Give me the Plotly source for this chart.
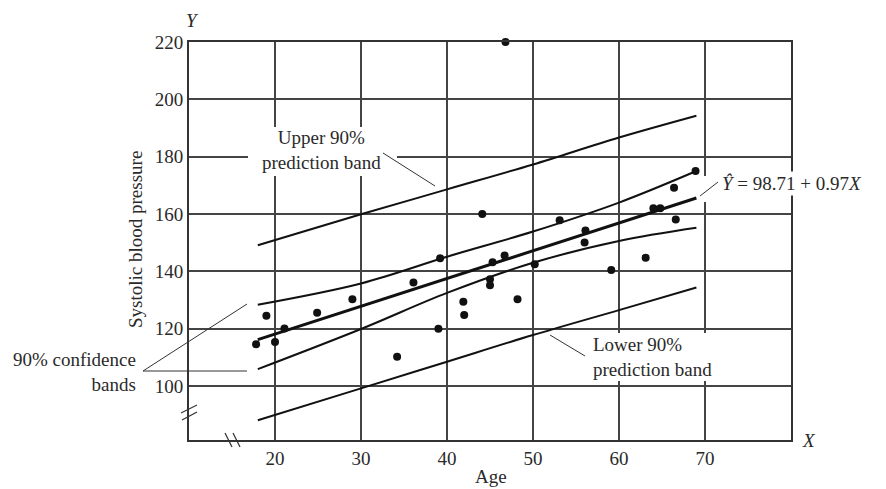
import plotly.graph_objects as go

# ---- data ----
age = [17.8, 19.0, 20.0, 21.1, 24.9, 29.0, 34.2, 36.1, 39.0, 39.2,
       41.9, 42.0, 44.1, 45.0, 45.0, 45.3, 46.7, 46.8, 48.2, 50.2,
       53.1, 56.0, 56.1, 59.1, 63.1, 64.0, 64.8, 66.4, 66.6, 68.9]
sbp = [114.6, 124.5, 115.4, 120.1, 125.6, 130.3, 110.2, 136.1, 120.0, 144.6,
       129.4, 124.8, 160.0, 137.3, 135.2, 143.2, 145.5, 220.0, 130.3, 142.5,
       157.8, 150.1, 154.3, 140.5, 144.8, 162.0, 162.0, 169.2, 158.1, 175.0]

reg_x = [18, 69]
reg_y = [116.2, 165.6]

band_x = [18, 30, 40, 50, 60, 69]
upper_conf = [128.4, 135.8, 145.1, 153.9, 164.0, 175.0]
lower_conf = [105.9, 119.9, 132.5, 143.0, 150.6, 155.2]
upper_pred = [149.1, 159.9, 168.6, 177.3, 186.7, 194.3]
lower_pred = [88.1, 99.2, 108.5, 117.8, 126.5, 134.4]

x_ticks = [20, 30, 40, 50, 60, 70]
y_ticks = [100, 120, 140, 160, 180, 200, 220]

# ---- layout geometry (page pixels; page body has an 8px margin) ----
OFF = 8
W, H = 886 - OFF, 489 - OFF
L, R, T, B = 189, 791, 42, 440          # plot box in page pixels
PW, PH = R - L, B - T


def px(x):
    return (x - L) / PW


def py(y):
    return (B - y) / PH


FONT = "Liberation Serif, Times New Roman, serif"
TXT = "#2a2a2a"
INK = "#111111"

fig = go.Figure()

for yv in (upper_pred, lower_pred):
    fig.add_trace(go.Scatter(x=band_x, y=yv, mode="lines",
                             line=dict(color=INK, width=2, shape="spline"),
                             showlegend=False, hoverinfo="skip"))
for yv in (upper_conf, lower_conf):
    fig.add_trace(go.Scatter(x=band_x, y=yv, mode="lines",
                             line=dict(color=INK, width=2, shape="spline"),
                             showlegend=False, hoverinfo="skip"))
fig.add_trace(go.Scatter(x=reg_x, y=reg_y, mode="lines",
                         line=dict(color=INK, width=3),
                         showlegend=False, hoverinfo="skip"))
fig.add_trace(go.Scatter(x=age, y=sbp, mode="markers",
                         marker=dict(color=INK, size=8),
                         cliponaxis=False, showlegend=False))

shapes = []
# white boxes behind the band labels (interrupt the gridlines)
for (x0, y0, x1, y1) in [(248, 127, 397, 176), (585, 333, 722, 381),
                         (700, 176, 712, 202)]:
    shapes.append(dict(type="rect", xref="paper", yref="paper",
                       x0=px(x0), x1=px(x1), y0=py(y1), y1=py(y0),
                       fillcolor="white", line=dict(width=0), layer="above"))
# leader lines
for (x0, y0, x1, y1) in [(383, 153, 435, 186), (700, 196, 718, 182),
                         (143, 371, 247, 304), (143, 371, 247, 371),
                         (550, 335, 585, 356)]:
    shapes.append(dict(type="line", xref="paper", yref="paper",
                       x0=px(x0), y0=py(y0), x1=px(x1), y1=py(y1),
                       line=dict(color="#333", width=1), layer="above"))
# axis break marks
for (x0, y0, x1, y1) in [(181, 413, 197, 405), (182, 420, 197, 412),
                         (225, 433, 232, 447), (233, 433, 240, 447)]:
    shapes.append(dict(type="line", xref="paper", yref="paper",
                       x0=px(x0), y0=py(y0), x1=px(x1), y1=py(y1),
                       line=dict(color="#333", width=1.2), layer="above"))

ann = []


def add(text, x, y, xa="center", ya="middle", size=19, align="center", **kw):
    ann.append(dict(text=text, xref="paper", yref="paper", x=px(x), y=py(y),
                    xanchor=xa, yanchor=ya, showarrow=False, align=align,
                    font=dict(family=FONT, size=size, color=TXT), **kw))


add("<i>Y</i>", 192, 20)
add("<i>X</i>", 800, 440, xa="left")
add("Age", 491, 476)
add("Systolic blood pressure", 135, 240, textangle=-90)
add("Upper 90%<br>prediction band", 321, 150)
add("Lower 90%<br>prediction band", 591, 357, xa="left", align="left")
add("90% confidence<br>bands", 138, 372, xa="right", align="right")
add("<i>Ŷ</i> = 98.71 + 0.97<i>X</i>", 720, 183, xa="left",
    bgcolor="white", borderpad=1)

axis_common = dict(showgrid=True, gridcolor="#444", gridwidth=1.5,
                   showline=True, linecolor="#333", linewidth=2, mirror=True,
                   zeroline=False, ticks="", color=TXT,
                   tickfont=dict(family=FONT, size=19, color=TXT))

fig.update_layout(
    width=W, height=H,
    margin=dict(l=L - OFF, r=(W + OFF) - R, t=T - OFF, b=(H + OFF) - B),
    paper_bgcolor="white", plot_bgcolor="white",
    xaxis=dict(range=[10, 80], tickvals=x_ticks, **axis_common),
    yaxis=dict(range=[81.2, 220], tickvals=y_ticks, **axis_common),
    shapes=shapes, annotations=ann, showlegend=False,
)

fig.write_html("out.html")
